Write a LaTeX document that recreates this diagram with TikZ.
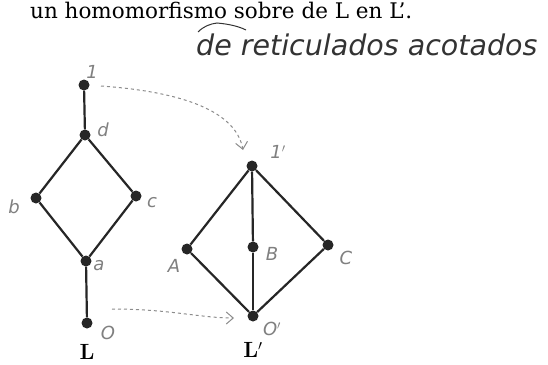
\documentclass[tikz,border=0pt]{standalone}
\usepackage{fontspec}
\usetikzlibrary{arrows.meta}
\newfontfamily\handfam{DejaVu Sans}
\newfontfamily\printfam{DejaVu Serif}
\newcommand{\handfont}{\handfam\itshape}
\tikzset{
  dot/.style={circle,fill=black!85,inner sep=0pt,minimum size=11pt},
  edge/.style={line width=2.2pt,black!85},
  hlabel/.style={text=black!50,font=\handfont\fontsize{18}{20}\selectfont,inner sep=0pt},
  maparrow/.style={black!45,dashed,line width=1pt,-{Straight Barb[length=7pt,width=12pt]}},
  setname/.style={font=\bfseries\fontsize{22}{24}\selectfont,inner sep=0pt}
}
\begin{document}
\begin{tikzpicture}[x=1pt,y=-1pt]
\useasboundingbox[fill=white] (0,0) rectangle (548,364);
% printed line
\node[anchor=base west,inner sep=0pt,font=\printfam\fontsize{21.5}{23}\selectfont] (line) at (30,18) {un homomorfismo sobre de L en L’.};
% handwritten addition
\node[anchor=base west,inner sep=0pt,text=black!80,font=\handfont\fontsize{28.5}{32}\selectfont] (acot) at (196,55) {de reticulados acotados};
\draw[black!80,line width=1pt] (198,32) .. controls (204,26) and (210,24) .. (217,23) .. controls (228,24) and (238,26) .. (246,30);
% lattice L
\node[dot] (one) at (84,85) {};
\node[dot] (d) at (85,135) {};
\node[dot] (b) at (36,198) {};
\node[dot] (c) at (136,196) {};
\node[dot] (a) at (86,261) {};
\node[dot] (zero) at (87,323) {};
\draw[edge] (one) -- (d);
\draw[edge] (d) -- (b);
\draw[edge] (d) -- (c);
\draw[edge] (b) -- (a);
\draw[edge] (c) -- (a);
\draw[edge] (a) -- (zero);
\node[hlabel] at (92,72) {1};
\node[hlabel] at (103,130) {d};
\node[hlabel] at (14,207) {b};
\node[hlabel] at (152,203) {c};
\node[hlabel] at (99,266) {a};
\node[hlabel] at (108,333) {O};
\node[setname] (L) at (87,352) {L};
% lattice L'
\node[dot] (onep) at (252,166) {};
\node[dot] (A) at (187,249) {};
\node[dot] (B) at (253,247) {};
\node[dot] (C) at (328,245) {};
\node[dot] (zerop) at (253,316) {};
\draw[edge] (onep) -- (A);
\draw[edge] (onep) -- (B);
\draw[edge] (onep) -- (C);
\draw[edge] (A) -- (zerop);
\draw[edge] (B) -- (zerop);
\draw[edge] (C) -- (zerop);
\node[hlabel] at (278,152) {1$'$};
\node[hlabel] at (174,266) {A};
\node[hlabel] at (272,254) {B};
\node[hlabel] at (346,258) {C};
\node[hlabel] at (272,329) {O$'$};
\node[setname] (Lp) at (253,350) {L$'$};
% the map
\coordinate (f1) at (101,86);
\coordinate (t1) at (243,150);
\coordinate (f0) at (112,309);
\coordinate (t0) at (234,318);
\draw[maparrow] (f1) .. controls (185,92) and (236,112) .. (t1);
\draw[maparrow] (f0) .. controls (170,309) and (200,318) .. (t0);
\end{tikzpicture}
\end{document}
